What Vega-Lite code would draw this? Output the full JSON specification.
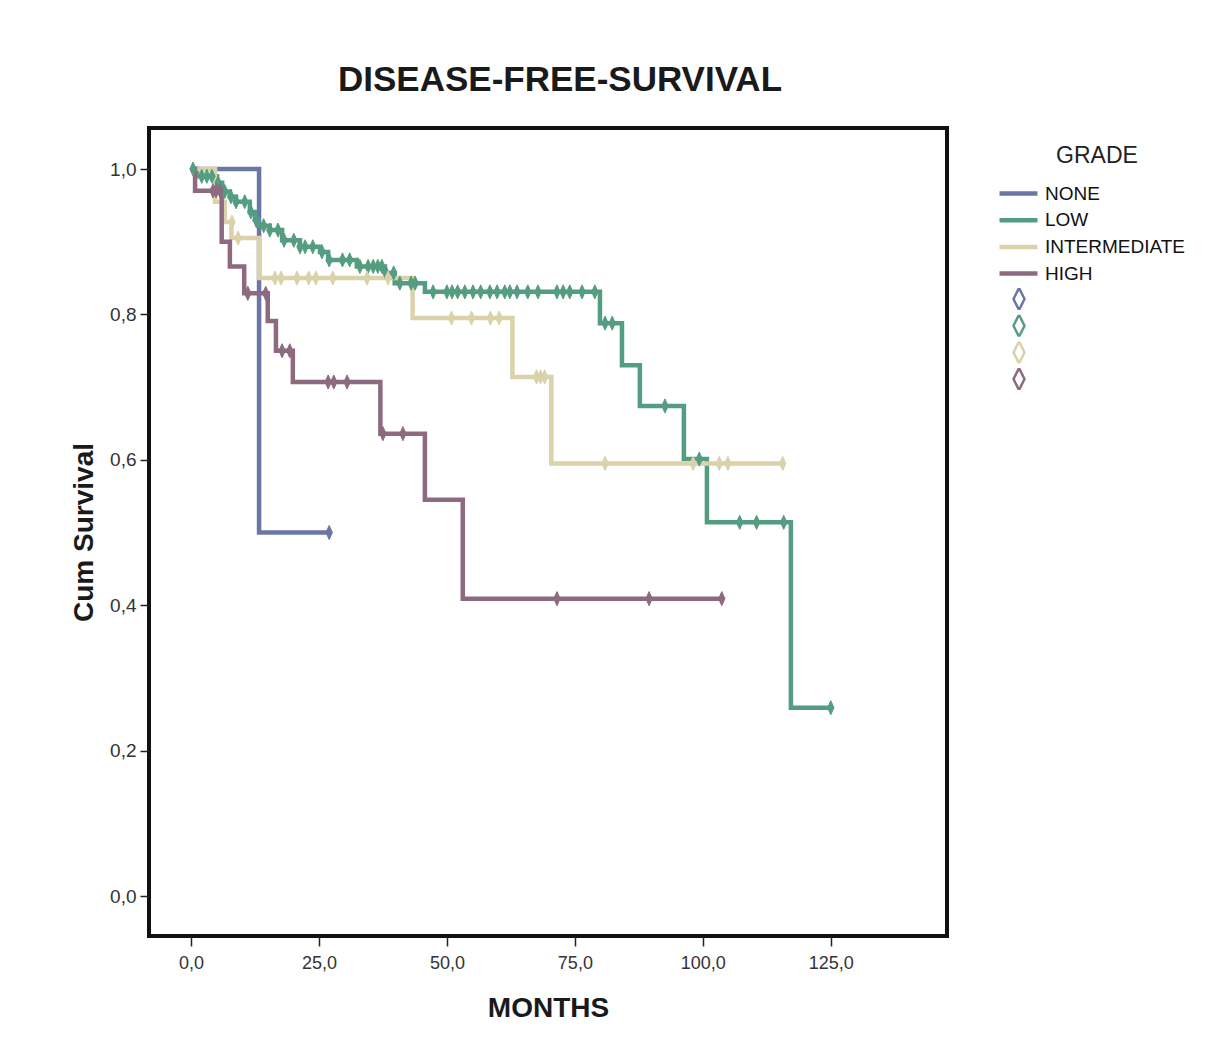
{
  "$schema": "https://vega.github.io/schema/vega-lite/v6.json",
  "width": 798,
  "height": 808,
  "autosize": {"type": "none"},
  "padding": {"left": 149, "top": 128, "right": 272, "bottom": 110},
  "background": "white",
  "title": {"text": "DISEASE-FREE-SURVIVAL", "font": "Liberation Sans", "fontSize": 35, "fontWeight": "bold", "color": "#1a1a1a", "offset": 30, "dx": 12},
  "config": {
    "font": "Liberation Sans",
    "view": {"stroke": "#111111", "strokeWidth": 4},
    "axis": {"grid": false, "domain": false, "tickColor": "#222222", "tickWidth": 1.5, "labelColor": "#333333", "titleColor": "#1a1a1a", "labelFont": "Liberation Sans", "titleFont": "Liberation Sans"}
  },
  "datasets": {
    "steps": [
      {"grade": "NONE", "t": 0, "s": 1.0},
      {"grade": "NONE", "t": 13.3, "s": 0.5},
      {"grade": "NONE", "t": 27.0, "s": 0.5},
      {"grade": "LOW", "t": 0, "s": 1.0},
      {"grade": "LOW", "t": 1.2, "s": 0.990},
      {"grade": "LOW", "t": 5.1, "s": 0.981},
      {"grade": "LOW", "t": 6.1, "s": 0.969},
      {"grade": "LOW", "t": 7.6, "s": 0.962},
      {"grade": "LOW", "t": 8.8, "s": 0.955},
      {"grade": "LOW", "t": 11.5, "s": 0.941},
      {"grade": "LOW", "t": 12.5, "s": 0.930},
      {"grade": "LOW", "t": 13.1, "s": 0.922},
      {"grade": "LOW", "t": 15.4, "s": 0.916},
      {"grade": "LOW", "t": 17.8, "s": 0.902},
      {"grade": "LOW", "t": 21.3, "s": 0.893},
      {"grade": "LOW", "t": 25.2, "s": 0.886},
      {"grade": "LOW", "t": 26.8, "s": 0.875},
      {"grade": "LOW", "t": 32.4, "s": 0.866},
      {"grade": "LOW", "t": 37.9, "s": 0.857},
      {"grade": "LOW", "t": 39.8, "s": 0.843},
      {"grade": "LOW", "t": 45.7, "s": 0.831},
      {"grade": "LOW", "t": 79.9, "s": 0.788},
      {"grade": "LOW", "t": 84.2, "s": 0.730},
      {"grade": "LOW", "t": 87.7, "s": 0.674},
      {"grade": "LOW", "t": 96.3, "s": 0.601},
      {"grade": "LOW", "t": 100.8, "s": 0.514},
      {"grade": "LOW", "t": 117.2, "s": 0.259},
      {"grade": "LOW", "t": 125.0, "s": 0.259},
      {"grade": "INTERMEDIATE", "t": 0, "s": 1.0},
      {"grade": "INTERMEDIATE", "t": 4.7, "s": 0.955},
      {"grade": "INTERMEDIATE", "t": 6.6, "s": 0.927},
      {"grade": "INTERMEDIATE", "t": 7.9, "s": 0.905},
      {"grade": "INTERMEDIATE", "t": 13.3, "s": 0.850},
      {"grade": "INTERMEDIATE", "t": 43.3, "s": 0.795},
      {"grade": "INTERMEDIATE", "t": 62.8, "s": 0.714},
      {"grade": "INTERMEDIATE", "t": 70.4, "s": 0.595},
      {"grade": "INTERMEDIATE", "t": 115.6, "s": 0.595},
      {"grade": "HIGH", "t": 0, "s": 1.0},
      {"grade": "HIGH", "t": 0.8, "s": 0.970},
      {"grade": "HIGH", "t": 6.0, "s": 0.900},
      {"grade": "HIGH", "t": 7.6, "s": 0.866},
      {"grade": "HIGH", "t": 10.4, "s": 0.829},
      {"grade": "HIGH", "t": 15.0, "s": 0.791},
      {"grade": "HIGH", "t": 16.6, "s": 0.750},
      {"grade": "HIGH", "t": 19.9, "s": 0.707},
      {"grade": "HIGH", "t": 37.0, "s": 0.636},
      {"grade": "HIGH", "t": 45.7, "s": 0.545},
      {"grade": "HIGH", "t": 53.1, "s": 0.409},
      {"grade": "HIGH", "t": 103.7, "s": 0.409}
    ],
    "cens": [
      {"grp": "NONE", "t": 27.0, "s": 0.5},
      {"grp": "LOW", "t": 0.4, "s": 1.0},
      {"grp": "LOW", "t": 2.1, "s": 0.990},
      {"grp": "LOW", "t": 3.1, "s": 0.990},
      {"grp": "LOW", "t": 4.1, "s": 0.990},
      {"grp": "LOW", "t": 5.3, "s": 0.981},
      {"grp": "LOW", "t": 6.6, "s": 0.969},
      {"grp": "LOW", "t": 7.8, "s": 0.962},
      {"grp": "LOW", "t": 8.8, "s": 0.955},
      {"grp": "LOW", "t": 10.5, "s": 0.955},
      {"grp": "LOW", "t": 11.7, "s": 0.941},
      {"grp": "LOW", "t": 12.7, "s": 0.930},
      {"grp": "LOW", "t": 14.2, "s": 0.922},
      {"grp": "LOW", "t": 15.4, "s": 0.916},
      {"grp": "LOW", "t": 17.0, "s": 0.916},
      {"grp": "LOW", "t": 18.2, "s": 0.902},
      {"grp": "LOW", "t": 20.1, "s": 0.902},
      {"grp": "LOW", "t": 21.3, "s": 0.893},
      {"grp": "LOW", "t": 22.3, "s": 0.893},
      {"grp": "LOW", "t": 23.8, "s": 0.893},
      {"grp": "LOW", "t": 25.6, "s": 0.886},
      {"grp": "LOW", "t": 27.0, "s": 0.875},
      {"grp": "LOW", "t": 29.6, "s": 0.875},
      {"grp": "LOW", "t": 31.0, "s": 0.875},
      {"grp": "LOW", "t": 33.0, "s": 0.866},
      {"grp": "LOW", "t": 34.6, "s": 0.866},
      {"grp": "LOW", "t": 35.6, "s": 0.866},
      {"grp": "LOW", "t": 36.5, "s": 0.866},
      {"grp": "LOW", "t": 37.3, "s": 0.866},
      {"grp": "LOW", "t": 38.1, "s": 0.857},
      {"grp": "LOW", "t": 39.6, "s": 0.857},
      {"grp": "LOW", "t": 40.8, "s": 0.843},
      {"grp": "LOW", "t": 43.0, "s": 0.843},
      {"grp": "LOW", "t": 43.8, "s": 0.843},
      {"grp": "LOW", "t": 47.3, "s": 0.831},
      {"grp": "LOW", "t": 50.0, "s": 0.831},
      {"grp": "LOW", "t": 51.0, "s": 0.831},
      {"grp": "LOW", "t": 52.1, "s": 0.831},
      {"grp": "LOW", "t": 53.5, "s": 0.831},
      {"grp": "LOW", "t": 55.1, "s": 0.831},
      {"grp": "LOW", "t": 56.6, "s": 0.831},
      {"grp": "LOW", "t": 58.4, "s": 0.831},
      {"grp": "LOW", "t": 59.8, "s": 0.831},
      {"grp": "LOW", "t": 61.3, "s": 0.831},
      {"grp": "LOW", "t": 62.3, "s": 0.831},
      {"grp": "LOW", "t": 63.7, "s": 0.831},
      {"grp": "LOW", "t": 65.8, "s": 0.831},
      {"grp": "LOW", "t": 67.8, "s": 0.831},
      {"grp": "LOW", "t": 71.5, "s": 0.831},
      {"grp": "LOW", "t": 72.7, "s": 0.831},
      {"grp": "LOW", "t": 74.0, "s": 0.831},
      {"grp": "LOW", "t": 76.4, "s": 0.831},
      {"grp": "LOW", "t": 78.9, "s": 0.831},
      {"grp": "LOW", "t": 80.9, "s": 0.788},
      {"grp": "LOW", "t": 82.3, "s": 0.788},
      {"grp": "LOW", "t": 92.6, "s": 0.674},
      {"grp": "LOW", "t": 99.3, "s": 0.601},
      {"grp": "LOW", "t": 107.2, "s": 0.514},
      {"grp": "LOW", "t": 110.5, "s": 0.514},
      {"grp": "LOW", "t": 115.8, "s": 0.514},
      {"grp": "LOW", "t": 125.0, "s": 0.259},
      {"grp": "INTERMEDIATE", "t": 8.0, "s": 0.927},
      {"grp": "INTERMEDIATE", "t": 9.2, "s": 0.905},
      {"grp": "INTERMEDIATE", "t": 16.4, "s": 0.850},
      {"grp": "INTERMEDIATE", "t": 17.6, "s": 0.850},
      {"grp": "INTERMEDIATE", "t": 20.7, "s": 0.850},
      {"grp": "INTERMEDIATE", "t": 23.0, "s": 0.850},
      {"grp": "INTERMEDIATE", "t": 24.4, "s": 0.850},
      {"grp": "INTERMEDIATE", "t": 27.7, "s": 0.850},
      {"grp": "INTERMEDIATE", "t": 34.4, "s": 0.850},
      {"grp": "INTERMEDIATE", "t": 38.5, "s": 0.850},
      {"grp": "INTERMEDIATE", "t": 50.9, "s": 0.795},
      {"grp": "INTERMEDIATE", "t": 54.8, "s": 0.795},
      {"grp": "INTERMEDIATE", "t": 58.5, "s": 0.795},
      {"grp": "INTERMEDIATE", "t": 60.2, "s": 0.795},
      {"grp": "INTERMEDIATE", "t": 67.5, "s": 0.714},
      {"grp": "INTERMEDIATE", "t": 68.3, "s": 0.714},
      {"grp": "INTERMEDIATE", "t": 69.1, "s": 0.714},
      {"grp": "INTERMEDIATE", "t": 80.9, "s": 0.595},
      {"grp": "INTERMEDIATE", "t": 98.1, "s": 0.595},
      {"grp": "INTERMEDIATE", "t": 103.2, "s": 0.595},
      {"grp": "INTERMEDIATE", "t": 104.9, "s": 0.595},
      {"grp": "INTERMEDIATE", "t": 115.6, "s": 0.595},
      {"grp": "HIGH", "t": 4.3, "s": 0.970},
      {"grp": "HIGH", "t": 4.9, "s": 0.970},
      {"grp": "HIGH", "t": 5.7, "s": 0.970},
      {"grp": "HIGH", "t": 11.1, "s": 0.829},
      {"grp": "HIGH", "t": 14.6, "s": 0.829},
      {"grp": "HIGH", "t": 17.8, "s": 0.750},
      {"grp": "HIGH", "t": 19.3, "s": 0.750},
      {"grp": "HIGH", "t": 26.8, "s": 0.707},
      {"grp": "HIGH", "t": 27.9, "s": 0.707},
      {"grp": "HIGH", "t": 30.5, "s": 0.707},
      {"grp": "HIGH", "t": 37.5, "s": 0.636},
      {"grp": "HIGH", "t": 41.4, "s": 0.636},
      {"grp": "HIGH", "t": 71.5, "s": 0.409},
      {"grp": "HIGH", "t": 89.5, "s": 0.409},
      {"grp": "HIGH", "t": 103.7, "s": 0.409}
    ]
  },
  "encoding": {
    "x": {
      "field": "t", "type": "quantitative",
      "scale": {"domain": [-8.2, 147.7], "nice": false, "zero": false},
      "axis": {"title": "MONTHS", "values": [0, 25, 50, 75, 100, 125], "format": ".1f", "labelExpr": "replace(datum.label, '.', ',')", "labelFontSize": 18, "tickSize": 10, "labelPadding": 8, "titleFontSize": 28, "titleFontWeight": "bold", "titlePadding": 22}
    },
    "y": {
      "field": "s", "type": "quantitative",
      "scale": {"domain": [-0.055, 1.0564], "nice": false, "zero": false},
      "axis": {"title": "Cum Survival", "values": [0, 0.2, 0.4, 0.6, 0.8, 1.0], "format": ".1f", "labelExpr": "replace(datum.label, '.', ',')", "labelFontSize": 19, "tickSize": 9, "labelPadding": 4, "titleFontSize": 28, "titleFontWeight": "bold", "titlePadding": 11}
    }
  },
  "layer": [
    {
      "data": {"name": "steps"},
      "mark": {"type": "line", "interpolate": "step-after", "strokeWidth": 4.5},
      "encoding": {
        "color": {
          "field": "grade", "type": "nominal",
          "scale": {"domain": ["NONE", "LOW", "INTERMEDIATE", "HIGH"], "range": ["#6b76a5", "#559d81", "#d9d2aa", "#8d6a80"]},
          "legend": {"orient": "none", "legendX": 860, "legendY": 17, "title": "GRADE", "titleFontSize": 23, "titleFontWeight": "normal", "titleColor": "#222222", "titleAnchor": "middle", "titlePadding": 16, "symbolType": "M-4,0L4,0", "symbolSize": 90, "symbolStrokeWidth": 4.5, "labelFontSize": 19, "labelColor": "#111111", "labelOffset": 17, "rowPadding": 6.7}
        }
      }
    },
    {
      "data": {"name": "cens"},
      "mark": {"type": "point", "shape": "M0,-1L0.45,0L0,1L-0.45,0Z", "filled": true, "size": 200, "opacity": 1, "strokeWidth": 1},
      "encoding": {
        "fill": {
          "field": "grp", "type": "nominal", "sort": ["NONE", "LOW", "INTERMEDIATE", "HIGH"],
          "scale": {"range": ["#6b76a5", "#559d81", "#d9d2aa", "#8d6a80"]},
          "legend": null
        },
        "stroke": {
          "field": "grp", "type": "nominal", "sort": ["NONE", "LOW", "INTERMEDIATE", "HIGH"],
          "scale": {"range": ["#6b76a5", "#559d81", "#d9d2aa", "#8d6a80"]},
          "legend": {"orient": "none", "legendX": 860.5, "legendY": 160, "title": null, "symbolType": "M0,-2L1,0L0,2L-1,0Z", "symbolSize": 121, "symbolStrokeWidth": 2.5, "symbolFillColor": "white", "labelExpr": "''", "labelFontSize": 19, "clipHeight": 22, "rowPadding": 4.7}
        }
      }
    }
  ]
}
